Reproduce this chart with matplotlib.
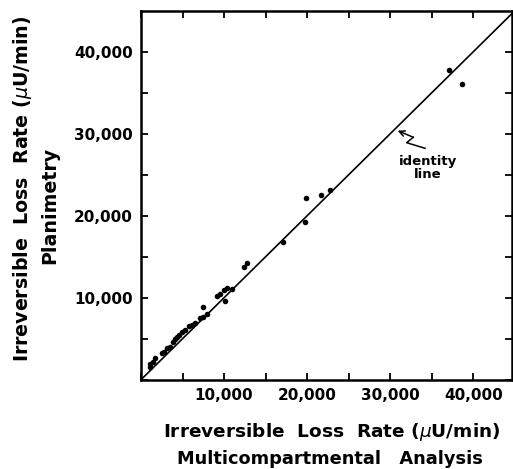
import matplotlib
matplotlib.use("Agg")
import matplotlib.pyplot as plt
from matplotlib.ticker import MultipleLocator, FixedLocator

# Data
x_multicomp = [1080, 1080, 1410, 1680, 2490, 2770, 3090, 3490, 3890, 4090,
               4300, 4610, 4900, 5290, 5810, 6100, 6500, 7100, 7500, 7910,
               7420, 9190, 9510, 10020, 10310, 10110, 11000, 12430, 12720,
               17050, 19740, 19860, 21660, 22700, 37060, 38670]
y_planimetry = [1590, 1910, 2200, 2610, 3290, 3410, 3830, 4020, 4630, 4930,
                5240, 5450, 5850, 6060, 6550, 6670, 6880, 7490, 7680, 8010,
                8870, 10170, 10450, 10940, 11150, 9650, 11000, 13780, 14190,
                16790, 19230, 22160, 22490, 23100, 37800, 36020]
identity = [0, 46000]
tick_vals = [10000, 20000, 30000, 40000]
tick_labels = ["10,000", "20,000", "30,000", "40,000"]

W, H = 513, 469
fig = plt.figure(figsize=(W / 100, H / 100), dpi=100)
ax = fig.add_axes([141 / W, 1 - 379.7 / H, (512 - 141) / W, (379.7 - 11) / H])

font = dict(family="DejaVu Sans", weight="bold")

ax.plot(identity, identity, color="black", lw=1.2, zorder=2)
ax.scatter(x_multicomp, y_planimetry, s=16, color="black", zorder=3, linewidths=0)

ax.set_xlim(0, 44650)
ax.set_ylim(0, 44960)

for axis in (ax.xaxis, ax.yaxis):
    axis.set_major_locator(FixedLocator(tick_vals))
    axis.set_minor_locator(MultipleLocator(5000))
ax.set_xticklabels(tick_labels, fontsize=11, **font)
ax.set_yticklabels(tick_labels, fontsize=11, **font)
ax.tick_params(which="both", direction="in", length=5, width=1.3,
               top=True, right=True, pad=6)
for s in ax.spines.values():
    s.set_linewidth(1.8)

# annotation: squiggle arrow to identity line
sq_x = [34180, 31970, 32770]
sq_y = [28220, 28900, 29560]
ax.plot(sq_x, sq_y, color="black", lw=1.1)
ax.annotate("", xy=(30890, 30370), xytext=(sq_x[-1], sq_y[-1]),
            arrowprops=dict(arrowstyle="->", lw=1.1, color="black",
                            mutation_scale=10, shrinkA=0, shrinkB=0))
ax.text(34500, 25800, "identity\nline", ha="center", va="center",
        fontsize=9.5, linespacing=1.05, **font)

# axis labels
fig.text(332 / W, 1 - 437 / H, "Irreversible  Loss  Rate ($\\mu$U/min)",
         ha="center", va="baseline", fontsize=13.3, **font)
fig.text(330 / W, 1 - 464 / H, "Multicompartmental   Analysis",
         ha="center", va="baseline", fontsize=12.8, **font)
fig.text(23 / W, 1 - 189 / H, "Irreversible  Loss  Rate ($\\mu$U/min)",
         ha="center", va="center", rotation=90, fontsize=13.7, **font)
fig.text(50 / W, 1 - 205 / H, "Planimetry",
         ha="center", va="center", rotation=90, fontsize=13.7, **font)

fig.savefig("out.png", dpi=100)
